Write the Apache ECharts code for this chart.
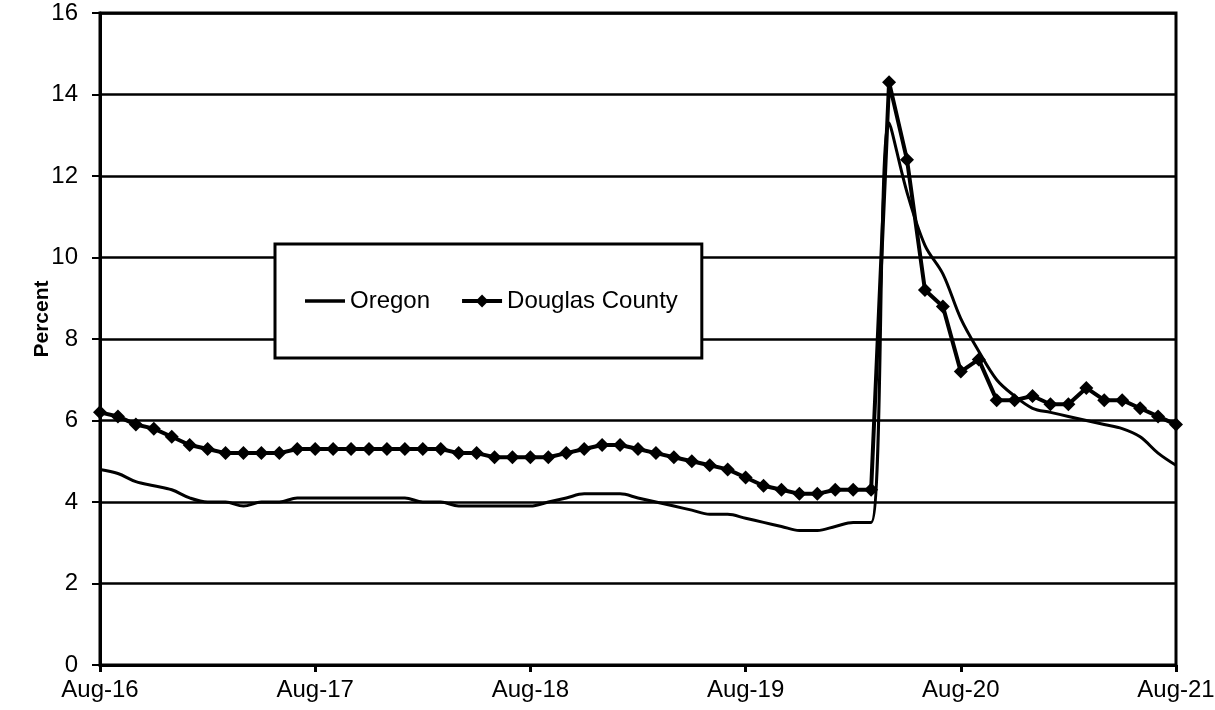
<!DOCTYPE html>
<html>
<head>
<meta charset="utf-8">
<script src="https://cdn.jsdelivr.net/npm/echarts@6/dist/echarts.min.js"></script>
<style>
html,body{margin:0;padding:0;background:#fff;}
#chart{width:1215px;height:710px;}
</style>
</head>
<body>
<div id="chart"></div>
<script>
const months = [
 "Aug-16","Sep-16","Oct-16","Nov-16","Dec-16",
 "Jan-17","Feb-17","Mar-17","Apr-17","May-17","Jun-17","Jul-17","Aug-17","Sep-17","Oct-17","Nov-17","Dec-17",
 "Jan-18","Feb-18","Mar-18","Apr-18","May-18","Jun-18","Jul-18","Aug-18","Sep-18","Oct-18","Nov-18","Dec-18",
 "Jan-19","Feb-19","Mar-19","Apr-19","May-19","Jun-19","Jul-19","Aug-19","Sep-19","Oct-19","Nov-19","Dec-19",
 "Jan-20","Feb-20","Mar-20","Apr-20","May-20","Jun-20","Jul-20","Aug-20","Sep-20","Oct-20","Nov-20","Dec-20",
 "Jan-21","Feb-21","Mar-21","Apr-21","May-21","Jun-21","Jul-21","Aug-21"
];
const oregon = [
 4.8,4.7,4.5,4.4,4.3,
 4.1,4.0,4.0,3.9,4.0,4.0,4.1,4.1,4.1,4.1,4.1,4.1,
 4.1,4.0,4.0,3.9,3.9,3.9,3.9,3.9,4.0,4.1,4.2,4.2,
 4.2,4.1,4.0,3.9,3.8,3.7,3.7,3.6,3.5,3.4,3.3,3.3,
 3.4,3.5,3.5,13.3,11.6,10.3,9.6,8.5,7.7,7.0,6.6,6.3,
 6.2,6.1,6.0,5.9,5.8,5.6,5.2,4.9
];
const douglas = [
 6.2,6.1,5.9,5.8,5.6,
 5.4,5.3,5.2,5.2,5.2,5.2,5.3,5.3,5.3,5.3,5.3,5.3,
 5.3,5.3,5.3,5.2,5.2,5.1,5.1,5.1,5.1,5.2,5.3,5.4,
 5.4,5.3,5.2,5.1,5.0,4.9,4.8,4.6,4.4,4.3,4.2,4.2,
 4.3,4.3,4.3,14.3,12.4,9.2,8.8,7.2,7.5,6.5,6.5,6.6,
 6.4,6.4,6.8,6.5,6.5,6.3,6.1,5.9
];
const seriesNames = ["Oregon","Douglas County"];
const yAxisTitle = "Percent";

const FONT = "'Liberation Sans', Arial, sans-serif";
const chart = echarts.init(document.getElementById('chart'), null, {renderer:'canvas'});
chart.setOption({
  animation: false,
  backgroundColor: '#ffffff',
  grid: {left: 100, right: 39, top: 13, bottom: 45, outerBoundsMode: 'none', containLabel: false,
         show: true, borderColor: '#000', borderWidth: 3, backgroundColor: 'transparent'},
  legend: {
    data: [
      {name: seriesNames[0], icon: 'path://M0,0 L40,0 L40,3.5 L0,3.5 Z', itemStyle: {color: '#000'}},
      {name: seriesNames[1]}
    ],
    left: 275, top: 244,
    padding: [45, 24, 45, 30],
    itemWidth: 40, itemHeight: 16, itemGap: 30,
    lineStyle: {width: 4, color: '#000'},
    backgroundColor: '#fff', borderColor: '#000', borderWidth: 3,
    textStyle: {fontFamily: FONT, fontSize: 24, color: '#000'}
  },
  xAxis: {
    type: 'category', data: months, boundaryGap: false,
    axisLine: {lineStyle: {color: '#000', width: 3}},
    axisTick: {interval: 11, length: 7, lineStyle: {color: '#000', width: 3}},
    axisLabel: {interval: 11, color: '#000', fontFamily: FONT, fontSize: 24, margin: 13},
    splitLine: {show: false}
  },
  yAxis: {
    type: 'value', min: 0, max: 16, interval: 2,
    axisLine: {show: true, lineStyle: {color: '#000', width: 3}},
    axisTick: {show: true, length: 8, lineStyle: {color: '#000', width: 2}},
    axisLabel: {color: '#000', fontFamily: FONT, fontSize: 24, margin: 22},
    splitLine: {show: true, lineStyle: {color: '#000', width: 2.5}}
  },
  graphic: [{
    type: 'text', x: 42, y: 319, rotation: Math.PI/2,
    style: {text: yAxisTitle, fontFamily: FONT, fontSize: 21, fontWeight: 'bold', fill: '#000', align: 'center', verticalAlign: 'middle'}
  }],
  series: [
    {name: seriesNames[0], type: 'line', data: oregon, smooth: 0.35, symbol: 'none',
     lineStyle: {color: '#000', width: 3}, itemStyle: {color: '#000'}, z: 3},
    {name: seriesNames[1], type: 'line', data: douglas, symbol: 'diamond', symbolSize: 14,
     showAllSymbol: true,
     lineStyle: {color: '#000', width: 4}, itemStyle: {color: '#000'}, z: 4}
  ]
});
</script>
</body>
</html>
